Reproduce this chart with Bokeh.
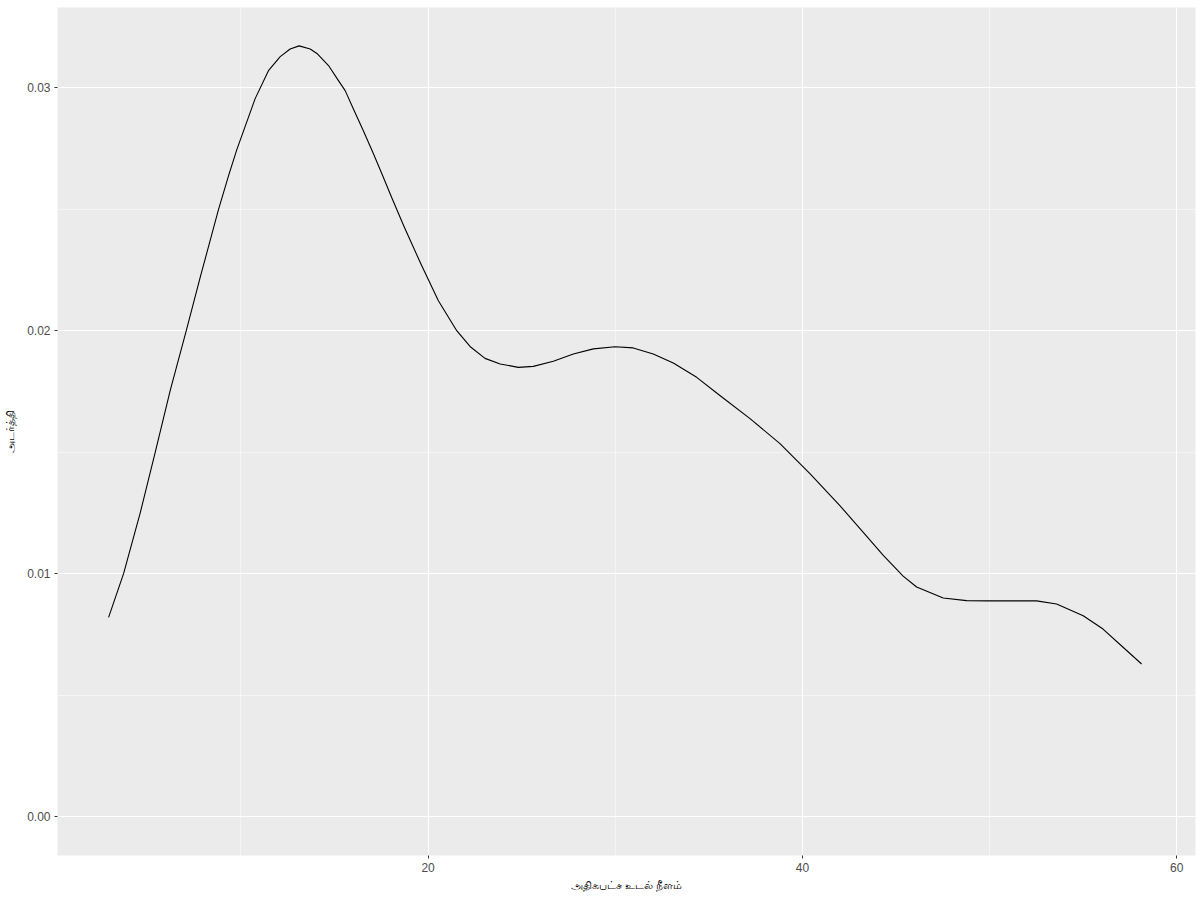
from bokeh.plotting import figure
from bokeh.models import FixedTicker, NumeralTickFormatter, Range1d
from bokeh.embed import file_html
from bokeh.resources import INLINE

# Density estimate
max_length = [2.93, 3.73, 4.62, 5.42, 6.22, 7.08, 7.82, 8.80, 9.34, 9.78, 10.76, 11.47,
              12.10, 12.63, 13.11, 13.70, 14.06, 14.68, 15.21, 15.57, 16.01, 16.54, 17.08,
              17.53, 18.06, 18.72, 19.63, 20.55, 21.53, 22.24, 23.04, 23.85, 24.82, 25.62,
              26.69, 27.76, 28.83, 29.99, 30.96, 32.03, 33.10, 34.35, 35.59, 37.20, 38.80,
              40.40, 42.00, 43.25, 44.32, 45.38, 46.10, 47.52, 48.77, 50.01, 52.51, 53.58,
              55.00, 56.06, 57.13, 58.12]
density = [0.00820, 0.01000, 0.01250, 0.01499, 0.01753, 0.02000, 0.02218, 0.02498, 0.02638,
           0.02745, 0.02955, 0.03070, 0.03128, 0.03159, 0.03172, 0.03159, 0.03141, 0.03091,
           0.03029, 0.02988, 0.02912, 0.02823, 0.02728, 0.02646, 0.02547, 0.02428, 0.02272,
           0.02123, 0.02000, 0.01935, 0.01886, 0.01863, 0.01849, 0.01853, 0.01874, 0.01904,
           0.01925, 0.01934, 0.01929, 0.01904, 0.01867, 0.01808, 0.01733, 0.01638, 0.01535,
           0.01412, 0.01280, 0.01170, 0.01075, 0.00990, 0.00945, 0.00900, 0.00889, 0.00888,
           0.00888, 0.00875, 0.00827, 0.00772, 0.00697, 0.00628]

x_ticks = [20, 40, 60]
x_minor = [10, 30, 50]
y_ticks = [0.00, 0.01, 0.02, 0.03]
y_minor = [0.005, 0.015, 0.025]

x_label = "அதிகபட்ச உடல் நீளம்"
y_label = "அடர்த்தி"

p = figure(frame_width=1138, frame_height=848, output_backend="svg", toolbar_location=None,
           x_range=Range1d(0.2, 61.0), y_range=Range1d(-0.0016, 0.0333),
           min_border_top=7, min_border_right=3, min_border_left=57, min_border_bottom=0)

p.background_fill_color = "#EBEBEB"
p.border_fill_color = "white"
p.outline_line_color = None

p.line(max_length, density, line_color="black", line_width=1.1, line_join="round")

for ax in (p.xaxis[0], p.yaxis[0]):
    ax.axis_line_color = None
    ax.major_tick_line_color = "#333333"
    ax.major_tick_in = 0
    ax.major_tick_out = 3
    ax.minor_tick_line_color = None
    ax.major_label_text_color = "#4D4D4D"
    ax.major_label_text_font_size = "12px"
    ax.axis_label_text_font_style = "normal"
    ax.axis_label_text_color = "black"
    ax.axis_label_text_font_size = "11px"
    ax.major_label_standoff = 3

p.xaxis[0].ticker = FixedTicker(ticks=x_ticks, minor_ticks=x_minor)
p.yaxis[0].ticker = FixedTicker(ticks=y_ticks, minor_ticks=y_minor)
p.yaxis[0].formatter = NumeralTickFormatter(format="0.00")
p.xaxis[0].axis_label = x_label
p.yaxis[0].axis_label = y_label
p.xaxis[0].axis_label_standoff = 4
p.yaxis[0].axis_label_standoff = 8

for g in (p.xgrid[0], p.ygrid[0]):
    g.grid_line_color = "white"
    g.grid_line_width = 1.1
    g.minor_grid_line_color = "white"
    g.minor_grid_line_width = 0.5

open("out.html", "w").write(file_html(p, INLINE))
